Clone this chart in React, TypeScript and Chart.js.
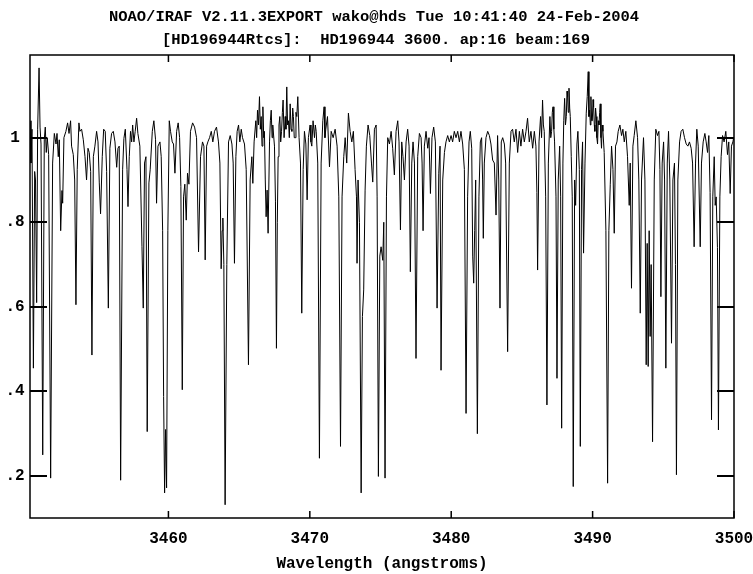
import { useEffect, useRef } from "react";
import { Chart, registerables } from "chart.js";

Chart.register(...registerables);

const W = 753;
const H = 574;

const titleLine1 = "NOAO/IRAF V2.11.3EXPORT wako@hds Tue 10:41:40 24-Feb-2004";
const titleLine2 = "[HD196944Rtcs]:  HD196944 3600. ap:16 beam:169";
const xAxisTitle = "Wavelength (angstroms)";

const X_MIN = 3450.21;
const X_MAX = 3500;
const Y_MIN = 0.1007;
const Y_MAX = 1.1955;

const xTicks = [3460, 3470, 3480, 3490, 3500];
const xTickLabels = ["3460", "3470", "3480", "3490", "3500"];
const yTicks = [0.2, 0.4, 0.6, 0.8, 1.0];
const yTickLabels = [".2", ".4", ".6", ".8", "1"];

// [wavelength (Å), normalized flux]
const seg1: [number, number][] = [
  [3450.21, 1.04], [3450.28, 0.94], [3450.35, 1.02], [3450.45, 0.455], [3450.54, 0.92], [3450.6, 0.9],
  [3450.68, 0.61], [3450.75, 1.02], [3450.85, 1.165], [3450.92, 1.025], [3450.99, 0.985], [3451.11, 0.25],
  [3451.22, 0.995], [3451.29, 1.025], [3451.36, 0.965], [3451.43, 1.0], [3451.53, 0.96], [3451.67, 0.195],
  [3451.81, 0.94], [3451.93, 1.01], [3452.05, 0.985], [3452.12, 1.01], [3452.21, 0.955], [3452.28, 0.995],
  [3452.38, 0.78], [3452.47, 0.875], [3452.52, 0.845], [3452.61, 1.0], [3452.75, 1.015], [3452.87, 1.035],
  [3452.97, 1.01], [3453.08, 1.04], [3453.15, 0.98], [3453.27, 0.96], [3453.37, 0.9], [3453.46, 0.605],
  [3453.55, 0.925], [3453.67, 1.035], [3453.74, 1.015], [3453.86, 1.02], [3453.98, 0.995], [3454.1, 0.955],
  [3454.21, 0.9], [3454.31, 0.975], [3454.4, 0.965], [3454.5, 0.92], [3454.59, 0.486], [3454.69, 0.955],
  [3454.8, 0.98], [3454.92, 1.015], [3455.02, 0.99], [3455.11, 0.893], [3455.2, 0.82], [3455.32, 0.955],
  [3455.42, 1.02], [3455.53, 1.015], [3455.63, 0.92], [3455.75, 0.597], [3455.86, 0.975], [3455.98, 1.01],
  [3456.1, 1.015], [3456.22, 0.99], [3456.34, 0.93], [3456.43, 0.975], [3456.52, 0.98],
];

const seg2: [number, number][] = [
  [3456.62, 0.19], [3456.76, 0.924], [3456.85, 0.998], [3456.95, 1.02], [3457.07, 0.925], [3457.14, 0.837],
  [3457.23, 0.955], [3457.32, 1.015], [3457.4, 0.99], [3457.47, 1.03], [3457.56, 0.99], [3457.65, 1.015],
  [3457.75, 1.046], [3457.84, 1.01], [3457.98, 0.98], [3458.13, 0.742], [3458.22, 0.597], [3458.31, 0.94],
  [3458.41, 0.955], [3458.5, 0.305], [3458.62, 0.893], [3458.71, 0.924], [3458.86, 1.015], [3458.97, 1.04],
  [3459.09, 0.995], [3459.16, 0.845], [3459.26, 0.98], [3459.4, 0.99], [3459.49, 0.955], [3459.59, 0.78],
  [3459.66, 0.388], [3459.73, 0.16], [3459.8, 0.31], [3459.87, 0.172], [3459.96, 0.78], [3460.06, 1.04],
  [3460.15, 1.015], [3460.27, 0.99], [3460.36, 0.985], [3460.46, 0.916], [3460.58, 1.015], [3460.69, 1.035],
  [3460.79, 1.0], [3460.88, 0.885], [3460.98, 0.404], [3461.07, 0.86], [3461.16, 0.89], [3461.26, 0.805],
  [3461.35, 0.916], [3461.45, 0.89], [3461.56, 1.015], [3461.71, 1.035], [3461.85, 1.025], [3461.99, 1.0],
  [3462.13, 0.73], [3462.27, 0.955], [3462.41, 0.99], [3462.51, 0.98], [3462.6, 0.711], [3462.7, 0.98],
  [3462.79, 0.99],
];

const seg3: [number, number][] = [
  [3462.91, 1.0], [3463.03, 1.015], [3463.14, 0.99], [3463.26, 1.015], [3463.4, 1.025], [3463.54, 0.99],
  [3463.64, 0.94], [3463.73, 0.69], [3463.8, 0.78], [3463.85, 0.81], [3463.92, 0.7], [3464.01, 0.132],
  [3464.13, 0.7], [3464.25, 0.99], [3464.37, 1.005], [3464.49, 0.985], [3464.58, 0.94], [3464.67, 0.703],
  [3464.77, 0.955], [3464.86, 1.015], [3464.96, 1.03], [3465.05, 0.99], [3465.15, 1.02], [3465.24, 1.0],
  [3465.38, 0.985], [3465.5, 0.925], [3465.66, 0.463], [3465.78, 0.9], [3465.9, 0.955], [3465.97, 0.892],
  [3466.06, 0.99], [3466.18, 1.04], [3466.24, 1.0], [3466.3, 1.065], [3466.37, 1.03], [3466.44, 1.097],
  [3466.5, 1.02], [3466.56, 1.05], [3466.62, 0.98], [3466.68, 1.073], [3466.74, 1.0], [3466.79, 1.015],
  [3466.85, 0.9], [3466.91, 0.813], [3466.98, 0.876], [3467.05, 0.774], [3467.15, 0.99], [3467.21, 1.04],
  [3467.27, 1.065], [3467.33, 1.0], [3467.38, 1.03], [3467.5, 0.98], [3467.57, 0.85], [3467.64, 0.502],
  [3467.7, 0.8], [3467.76, 0.955], [3467.82, 1.03], [3467.88, 1.05], [3467.94, 0.99], [3468.0, 1.015],
  [3468.06, 1.06], [3468.11, 1.089], [3468.18, 1.0], [3468.26, 1.05], [3468.31, 1.02], [3468.37, 1.12],
  [3468.43, 1.03], [3468.49, 1.04], [3468.55, 1.0], [3468.61, 1.08], [3468.67, 1.02], [3468.73, 1.015],
  [3468.79, 1.07], [3468.84, 1.05], [3468.9, 1.0], [3468.96, 1.0], [3469.02, 1.06], [3469.08, 1.05],
];

const seg4: [number, number][] = [
  [3469.15, 1.097], [3469.24, 1.0], [3469.34, 0.94], [3469.43, 0.585], [3469.53, 0.925], [3469.62, 1.015],
  [3469.72, 0.985], [3469.81, 0.853], [3469.9, 1.0], [3470.02, 1.03], [3470.08, 0.99], [3470.14, 0.98],
  [3470.23, 1.04], [3470.33, 1.0], [3470.39, 1.03], [3470.45, 1.015], [3470.56, 0.94], [3470.68, 0.242],
  [3470.8, 0.94], [3470.92, 1.04], [3471.01, 1.073], [3471.07, 1.0], [3471.13, 1.02], [3471.25, 1.05],
  [3471.39, 0.931], [3471.51, 1.015], [3471.65, 1.0], [3471.79, 1.02], [3471.93, 0.98], [3472.05, 0.86],
  [3472.17, 0.27], [3472.28, 0.86], [3472.4, 0.955], [3472.5, 1.0], [3472.61, 0.94], [3472.73, 1.058],
  [3472.85, 1.015], [3472.97, 0.99], [3473.08, 1.015], [3473.2, 0.925], [3473.3, 0.86], [3473.34, 0.703],
  [3473.41, 0.9], [3473.51, 0.8], [3473.63, 0.16], [3473.72, 0.577], [3473.81, 0.64], [3473.91, 0.876],
  [3474.0, 0.98], [3474.12, 1.03], [3474.24, 1.005], [3474.36, 0.94], [3474.45, 0.895], [3474.57, 1.02],
  [3474.69, 1.03], [3474.76, 0.86], [3474.85, 0.199], [3474.95, 0.72], [3475.04, 0.742], [3475.16, 0.71],
  [3475.23, 0.8], [3475.32, 0.195], [3475.42, 0.86],
];

const seg5: [number, number][] = [
  [3475.51, 1.0], [3475.63, 0.985], [3475.75, 1.015], [3475.86, 0.975], [3475.98, 0.912], [3476.1, 1.015],
  [3476.22, 1.04], [3476.31, 0.99], [3476.41, 0.782], [3476.5, 0.99], [3476.59, 0.955], [3476.69, 0.9],
  [3476.81, 0.99], [3476.92, 1.02], [3477.02, 0.98], [3477.11, 0.683], [3477.21, 0.94], [3477.3, 0.99],
  [3477.4, 0.94], [3477.51, 0.478], [3477.63, 0.955], [3477.75, 1.01], [3477.87, 1.0], [3477.94, 0.94],
  [3478.01, 0.78], [3478.1, 0.98], [3478.22, 1.015], [3478.34, 0.975], [3478.43, 1.0], [3478.53, 0.868],
  [3478.64, 1.0], [3478.76, 1.025], [3478.88, 0.99], [3479.0, 0.597], [3479.12, 0.916], [3479.21, 0.98],
  [3479.28, 0.45], [3479.4, 0.9], [3479.52, 0.965], [3479.63, 0.99], [3479.75, 1.005], [3479.87, 0.99],
  [3479.99, 1.005], [3480.1, 0.99], [3480.22, 1.015], [3480.34, 1.0], [3480.46, 1.015], [3480.58, 0.99],
  [3480.69, 1.015], [3480.81, 0.985], [3480.93, 0.925], [3481.05, 0.348], [3481.16, 0.86], [3481.26, 0.99],
  [3481.35, 1.015], [3481.45, 0.975], [3481.52, 0.72], [3481.59, 0.656], [3481.66, 0.78], [3481.73, 0.9],
  [3481.85, 0.3], [3481.96, 0.86],
];

const seg6: [number, number][] = [
  [3482.06, 0.99], [3482.15, 1.0], [3482.22, 0.9], [3482.27, 0.762], [3482.34, 0.94], [3482.46, 1.0],
  [3482.58, 1.015], [3482.7, 1.005], [3482.81, 0.985], [3482.93, 0.947], [3483.05, 0.94], [3483.17, 0.817],
  [3483.28, 1.005], [3483.36, 0.9], [3483.45, 0.597], [3483.54, 0.99], [3483.64, 1.0], [3483.76, 0.985],
  [3483.85, 0.94], [3483.99, 0.494], [3484.11, 0.94], [3484.23, 1.015], [3484.34, 1.02], [3484.46, 0.99],
  [3484.58, 1.02], [3484.7, 0.965], [3484.82, 1.015], [3484.93, 0.98], [3485.05, 1.02], [3485.17, 0.99],
  [3485.29, 1.015], [3485.4, 1.046], [3485.52, 0.99], [3485.64, 1.015], [3485.76, 0.975], [3485.88, 1.015],
  [3485.99, 0.98], [3486.06, 0.87], [3486.11, 0.687], [3486.21, 0.99], [3486.32, 1.05], [3486.39, 1.0],
  [3486.46, 1.089], [3486.52, 1.03], [3486.58, 1.015], [3486.68, 0.86], [3486.77, 0.368], [3486.87, 0.94],
  [3486.98, 1.05], [3487.04, 1.0], [3487.1, 1.015], [3487.15, 1.06], [3487.2, 1.073], [3487.26, 1.02],
  [3487.31, 0.99], [3487.41, 0.86], [3487.48, 0.431], [3487.57, 0.9], [3487.67, 0.98], [3487.74, 0.86],
  [3487.81, 0.313], [3487.9, 0.94], [3487.96, 1.04], [3488.02, 1.093], [3488.08, 1.03], [3488.14, 1.05],
  [3488.19, 1.11],
];

const seg7: [number, number][] = [
  [3488.23, 1.097], [3488.28, 1.06], [3488.33, 1.117], [3488.38, 1.07], [3488.42, 1.05], [3488.49, 0.955],
  [3488.56, 0.86], [3488.63, 0.175], [3488.73, 0.9], [3488.8, 0.84], [3488.89, 0.985], [3488.96, 1.015],
  [3489.06, 0.925], [3489.13, 0.27], [3489.22, 0.925], [3489.29, 0.99], [3489.36, 0.727], [3489.46, 0.94],
  [3489.55, 1.058], [3489.62, 1.097], [3489.69, 1.156], [3489.74, 1.05], [3489.79, 1.065], [3489.84, 1.03],
  [3489.88, 1.097], [3489.93, 1.04], [3489.98, 1.04], [3490.03, 1.09], [3490.07, 1.073], [3490.12, 1.03],
  [3490.16, 1.015], [3490.21, 1.07], [3490.26, 1.05], [3490.3, 1.0], [3490.35, 0.985], [3490.4, 1.04],
  [3490.45, 1.03], [3490.5, 1.06], [3490.54, 1.08], [3490.59, 1.0], [3490.63, 0.975], [3490.68, 1.03],
  [3490.73, 1.015], [3490.82, 0.965], [3490.94, 0.78], [3491.06, 0.183], [3491.15, 0.78], [3491.25, 0.89],
  [3491.34, 0.98], [3491.44, 0.925], [3491.53, 0.774], [3491.62, 0.98], [3491.72, 0.99], [3491.81, 1.015],
  [3491.93, 1.03], [3492.05, 1.005], [3492.14, 1.02], [3492.24, 0.99], [3492.35, 1.015], [3492.47, 0.955],
  [3492.59, 0.84], [3492.66, 0.94], [3492.75, 0.644], [3492.85, 0.98], [3492.94, 1.005], [3493.06, 1.04],
  [3493.18, 1.0], [3493.27, 0.9], [3493.37, 0.585], [3493.46, 0.9], [3493.6, 1.0], [3493.7, 0.9],
  [3493.79, 0.463], [3493.86, 0.75], [3493.93, 0.459], [3494.0, 0.78], [3494.07, 0.53], [3494.14, 0.7],
  [3494.24, 0.281], [3494.36, 0.9], [3494.47, 1.02],
];

const seg8: [number, number][] = [
  [3494.59, 1.005], [3494.69, 1.015], [3494.76, 0.925], [3494.83, 0.624], [3494.92, 0.94], [3495.02, 0.99],
  [3495.09, 0.9], [3495.18, 0.455], [3495.28, 0.94], [3495.37, 1.015], [3495.46, 0.9], [3495.58, 0.514],
  [3495.68, 0.9], [3495.79, 0.94], [3495.86, 0.7], [3495.93, 0.203], [3496.03, 0.9], [3496.15, 0.99],
  [3496.26, 1.015], [3496.38, 1.02], [3496.5, 1.0], [3496.62, 0.985], [3496.74, 0.98], [3496.85, 0.99],
  [3496.97, 0.975], [3497.07, 0.94], [3497.18, 0.742], [3497.28, 0.94], [3497.37, 1.02], [3497.47, 0.98],
  [3497.61, 0.742], [3497.7, 0.94], [3497.82, 0.99], [3497.94, 1.01], [3498.03, 0.99], [3498.13, 0.965],
  [3498.22, 1.005], [3498.31, 0.87], [3498.41, 0.333], [3498.5, 0.86], [3498.6, 0.955], [3498.67, 0.84],
  [3498.74, 0.86], [3498.83, 0.74], [3498.9, 0.309], [3499.0, 0.86], [3499.09, 0.955], [3499.19, 1.005],
  [3499.3, 0.99], [3499.42, 1.015], [3499.54, 0.96], [3499.63, 0.99], [3499.73, 0.868], [3499.82, 0.98],
  [3499.92, 0.99], [3499.98, 1.0],
];

const spectrum = [...seg1, ...seg2, ...seg3, ...seg4, ...seg5, ...seg6, ...seg7, ...seg8].map(([x, y]) => ({ x, y }));

const FONT = "'Liberation Mono', 'DejaVu Sans Mono', monospace";

const irafFrame = {
  id: "irafFrame",
  afterDraw(chart: any) {
    const { ctx, chartArea: a, scales } = chart;
    const xs = scales.x;
    const ys = scales.y;
    ctx.save();
    ctx.strokeStyle = "#000";
    ctx.fillStyle = "#000";
    ctx.lineWidth = 1.5;
    ctx.strokeRect(a.left, a.top, a.right - a.left, a.bottom - a.top);

    ctx.lineWidth = 2;
    yTicks.forEach((v) => {
      const py = Math.round(ys.getPixelForValue(v));
      ctx.beginPath();
      ctx.moveTo(a.left, py);
      ctx.lineTo(a.left + 17, py);
      ctx.moveTo(a.right - 17, py);
      ctx.lineTo(a.right, py);
      ctx.stroke();
    });
    ctx.lineWidth = 1.5;
    xTicks.forEach((v) => {
      const px = xs.getPixelForValue(v);
      ctx.beginPath();
      ctx.moveTo(px, a.bottom);
      ctx.lineTo(px, a.bottom - 7);
      ctx.moveTo(px, a.top);
      ctx.lineTo(px, a.top + 7);
      ctx.stroke();
    });

    ctx.textAlign = "center";
    ctx.textBaseline = "middle";
    ctx.font = `bold 16px ${FONT}`;
    yTicks.forEach((v, i) => {
      const py = ys.getPixelForValue(v);
      ctx.fillText(yTickLabels[i], 15, py);
    });
    xTicks.forEach((v, i) => {
      const px = xs.getPixelForValue(v);
      ctx.fillText(xTickLabels[i], px, 539);
    });
    ctx.fillText(xAxisTitle, (a.left + a.right) / 2, 564);

    ctx.font = `bold 15.5px ${FONT}`;
    ctx.fillText(titleLine1, 374, 17);
    ctx.fillText(titleLine2, 376, 40);
    ctx.restore();
  },
};

export default function App() {
  const ref = useRef<HTMLCanvasElement>(null);
  useEffect(() => {
    if (!ref.current) return;
    const chart = new Chart(ref.current, {
      type: "line",
      data: {
        datasets: [
          {
            data: spectrum,
            borderColor: "#000",
            borderWidth: 1,
            pointRadius: 0,
            tension: 0,
            fill: false,
          },
        ],
      },
      options: {
        responsive: false,
        animation: false,
        events: [],
        layout: { padding: { left: 30, top: 55, right: 19, bottom: 56 } },
        scales: {
          x: { type: "linear", min: X_MIN, max: X_MAX, display: false },
          y: { type: "linear", min: Y_MIN, max: Y_MAX, display: false },
        },
        plugins: {
          legend: { display: false },
          tooltip: { enabled: false },
          title: { display: false },
        },
      },
      plugins: [irafFrame],
    });
    return () => chart.destroy();
  }, []);
  return (
    <div style={{ position: "absolute", left: 0, top: 0, width: W, height: H, background: "#fff" }}>
      <canvas ref={ref} width={W} height={H} style={{ display: "block" }} />
    </div>
  );
}
